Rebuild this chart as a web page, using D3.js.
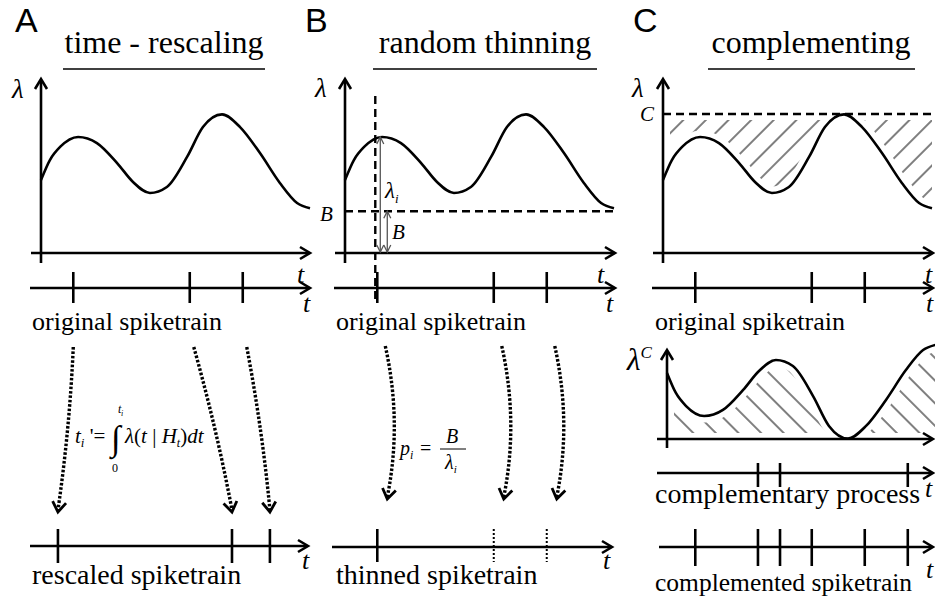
<!DOCTYPE html>
<html><head><meta charset="utf-8">
<script src="https://cdn.jsdelivr.net/npm/d3@7"></script>
<style>body{margin:0;background:#fff} svg{display:block}
.serif{font-family:"Liberation Serif","Tinos","Times New Roman",Times,"Noto Serif","DejaVu Serif",serif}
.sans{font-family:"Liberation Sans",Arial,"DejaVu Sans",sans-serif}
</style>
</head><body>
<svg id="chart" width="935" height="600"></svg>
<script>
// ---------------- data ----------------
const panelLetters = ["A", "B", "C"];
const panelTitles = ["time - rescaling", "random thinning", "complementing"];
const lowerLabelsTop = ["original spiketrain", "original spiketrain", "original spiketrain"];
const bottomLabels = ["rescaled spiketrain", "thinned spiketrain", "complemented spiketrain"];
const complementaryLabel = "complementary process";
// intensity lambda(t) (t in 0..10, lambda in 0..10)
const lambdaT = [0, 0.33, 0.71, 1.38, 2.08, 2.83, 3.42, 4.05, 4.68, 5.43, 6.02, 6.73, 7.40, 8.14, 8.88, 9.52, 10];
const lambdaV = [5.25, 6.69, 7.63, 8.35, 7.91, 6.47, 5.11, 4.32, 4.75, 6.91, 9.06, 9.97, 9.06, 7.19, 5.04, 3.60, 3.22];
const spikeTimes = [1.2, 5.53, 7.5];
const rescaledTimes = [0.63, 7.1, 8.51];
const keptSpikes = [true, false, false];
const complementaryTimes = [3.53, 4.35, 9.1];
const levelB = 3;
const levelC = 10;

// ---------------- setup ----------------
const svg = d3.select("#chart");
const defs = svg.append("defs");

function hatch(id, angle) {
  const p = defs.append("pattern").attr("id", id)
    .attr("patternUnits", "userSpaceOnUse").attr("width", 16).attr("height", 16)
    .attr("patternTransform", `rotate(${angle})`);
  p.append("line").attr("x1", 8).attr("y1", -2).attr("x2", 8).attr("y2", 18)
    .attr("stroke", "#000").attr("stroke-width", 1);
}
hatch("hUp", 45);
hatch("hDown", -45);

const lam = lambdaT.map((t, i) => ({ t, v: lambdaV[i] }));
const origins = [41, 345, 663];
const tips = [310, 615, 933];
const xs = origins.map(o => d3.scaleLinear().domain([0, 10]).range([o, o + 269]));
const xLC = d3.scaleLinear().domain([0, 10]).range([667, 936]);
const yL = d3.scaleLinear().domain([0, 10]).range([253, 114]);
const yLC = d3.scaleLinear().domain([0, 10]).range([439, 300]);
const AX = 2.6;

function hArrow(g, x1, x2, y, w = AX) {
  g.append("line").attr("x1", x1).attr("x2", x2 - 1).attr("y1", y).attr("y2", y)
    .attr("stroke", "#000").attr("stroke-width", w);
  g.append("path").attr("d", `M${x2 - 10},${y - 6}L${x2},${y}L${x2 - 10},${y + 6}`)
    .attr("fill", "none").attr("stroke", "#000").attr("stroke-width", w);
}
function vArrow(g, x, y1, y2, w = AX) {
  g.append("line").attr("x1", x).attr("x2", x).attr("y1", y1).attr("y2", y2 + 1)
    .attr("stroke", "#000").attr("stroke-width", w);
  g.append("path").attr("d", `M${x - 6},${y2 + 10}L${x},${y2}L${x + 6},${y2 + 10}`)
    .attr("fill", "none").attr("stroke", "#000").attr("stroke-width", w);
}
function txt(g, x, y, s, size, opts = {}) {
  return g.append("text").attr("x", x).attr("y", y).text(s)
    .attr("class", opts.sans ? "sans" : "serif").attr("font-size", size)
    .attr("font-style", opts.italic ? "italic" : "normal")
    .attr("text-anchor", opts.anchor || "start").attr("fill", "#000");
}
function ticks(g, scale, times, y1, y2, dotted) {
  g.selectAll(null).data(times).join("line")
    .attr("x1", d => scale(d)).attr("x2", d => scale(d))
    .attr("y1", y1).attr("y2", y2)
    .attr("stroke", "#000").attr("stroke-width", dotted ? 2 : 2.6)
    .attr("stroke-dasharray", dotted ? "2,2" : null);
}
function dottedArrow(g, sx, sy, ex, ey, bulge) {
  const cx = (sx + ex) / 2 + bulge, cy = (sy + ey) / 2;
  g.append("path").attr("d", `M${sx},${sy}Q${cx},${cy} ${ex},${ey - 2}`)
    .attr("fill", "none").attr("stroke", "#000").attr("stroke-width", 3.4).attr("stroke-dasharray", "2.6,1.8");
  const ang = Math.atan2(ey - cy, ex - cx);
  const L = 12, a = 0.6;
  const p1 = [ex - L * Math.cos(ang - a), ey - L * Math.sin(ang - a)];
  const p2 = [ex - L * Math.cos(ang + a), ey - L * Math.sin(ang + a)];
  g.append("path").attr("d", `M${p1}L${ex},${ey}L${p2}`)
    .attr("fill", "none").attr("stroke", "#000").attr("stroke-width", 2.8)
    .attr("stroke-linejoin", "miter");
}
function thinArrow(g, x, y1, y2) {
  g.append("line").attr("x1", x).attr("x2", x).attr("y1", y1).attr("y2", y2)
    .attr("stroke", "#555").attr("stroke-width", 1.3);
  g.append("path").attr("d", `M${x - 3.5},${y1 + 7}L${x},${y1}L${x + 3.5},${y1 + 7}M${x - 3.5},${y2 - 7}L${x},${y2}L${x + 3.5},${y2 - 7}`)
    .attr("fill", "none").attr("stroke", "#555").attr("stroke-width", 1.3);
}

const lineGen = (xsc, ysc, f) => d3.line().x(d => xsc(d.t)).y(d => ysc(f(d))).curve(d3.curveMonotoneX);

// ---------------- titles ----------------
const letterX = [15, 305, 633];
const titleX = [164, 485, 811];
const underline = [[63, 265], [373, 597], [708, 915]];
panelLetters.forEach((L, i) => {
  txt(svg, letterX[i], 32, L, 34, { sans: true });
  txt(svg, titleX[i], 53, panelTitles[i], 32, { anchor: "middle" });
  svg.append("line").attr("x1", underline[i][0]).attr("x2", underline[i][1])
    .attr("y1", 69).attr("y2", 69).attr("stroke", "#000").attr("stroke-width", 1.5);
});

// ---------------- panel C hatching (drawn first) ----------------
const gH = svg.append("g");
gH.append("path").datum(lam)
  .attr("d", d3.area().x(d => xs[2](d.t)).y0(yL(levelC)).y1(d => yL(d.v)).curve(d3.curveMonotoneX))
  .attr("fill", "url(#hUp)");
gH.append("path").datum(lam)
  .attr("d", d3.area().x(d => xLC(d.t)).y0(yLC(0)).y1(d => yLC(levelC - d.v)).curve(d3.curveMonotoneX))
  .attr("fill", "url(#hDown)");
// white margins around the hatched regions
gH.append("path").datum(lam).attr("d", lineGen(xs[2], yL, d => d.v))
  .attr("fill", "none").attr("stroke", "#fff").attr("stroke-width", 13);
gH.append("path").datum(lam).attr("d", lineGen(xLC, yLC, d => levelC - d.v))
  .attr("fill", "none").attr("stroke", "#fff").attr("stroke-width", 13);
gH.append("line").attr("x1", 663).attr("x2", 935).attr("y1", yL(levelC)).attr("y2", yL(levelC))
  .attr("stroke", "#fff").attr("stroke-width", 12);
gH.append("line").attr("x1", 663).attr("x2", 935).attr("y1", yLC(0)).attr("y2", yLC(0))
  .attr("stroke", "#fff").attr("stroke-width", 12);
gH.append("line").attr("x1", 663).attr("x2", 663).attr("y1", 100).attr("y2", 260)
  .attr("stroke", "#fff").attr("stroke-width", 14);
gH.append("line").attr("x1", 667).attr("x2", 667).attr("y1", 340).attr("y2", 445)
  .attr("stroke", "#fff").attr("stroke-width", 14);

// ---------------- upper panels: lambda + original spikes ----------------
const tLabels1 = [[297, 283], [597, 283], [925, 283]];
const tLabels2 = [[303, 312], [606, 312], [926, 312]];
const lamLabel = [[12, 98], [315, 97], [632, 97]];
const origLabelX = [32, 336, 655];
origins.forEach((o, i) => {
  const g = svg.append("g");
  vArrow(g, o, 263, 79);
  hArrow(g, o - 10, tips[i], 253);
  g.append("path").datum(lam).attr("d", lineGen(xs[i], yL, d => d.v))
    .attr("fill", "none").attr("stroke", "#000").attr("stroke-width", 2.6);
  hArrow(g, o - 11, tips[i], 288);
  ticks(g, xs[i], spikeTimes, 272, 303, false);
  txt(g, lamLabel[i][0], lamLabel[i][1], "λ", 27, { italic: true });
  txt(g, tLabels1[i][0], tLabels1[i][1], "t", 26, { italic: true });
  txt(g, tLabels2[i][0], tLabels2[i][1], "t", 26, { italic: true });
  txt(g, origLabelX[i], 330, lowerLabelsTop[i], 26);
});

// ---------------- panel A: rescaling ----------------
{
  const g = svg.append("g");
  spikeTimes.forEach((t, k) => {
    dottedArrow(g, xs[0](t) + (k === 0 ? 0 : 4), 347, xs[0](rescaledTimes[k]), 512, 4);
  });
  hArrow(g, 30, 308, 546);
  ticks(g, xs[0], rescaledTimes, 529, 563, false);
  txt(g, 302, 569, "t", 26, { italic: true });
  txt(g, 32, 584, bottomLabels[0], 28);
  // formula
  const f = g.append("text").attr("x", 75).attr("y", 443).attr("class", "serif").attr("font-size", 21);
  f.append("tspan").attr("font-style", "italic").text("t");
  f.append("tspan").attr("font-style", "italic").attr("font-size", 13).attr("dy", 4).text("i");
  f.append("tspan").attr("dy", -4).text(" '= ");
  txt(g, 111, 450, "∫", 35);
  txt(g, 118, 413, "t", 12, { italic: true });
  txt(g, 121, 416, "i", 8, { italic: true });
  txt(g, 112, 472, "0", 12);
  const f2 = g.append("text").attr("x", 125).attr("y", 443).attr("class", "serif").attr("font-size", 21);
  f2.append("tspan").attr("font-style", "italic").text("λ");
  f2.append("tspan").text("(");
  f2.append("tspan").attr("font-style", "italic").text("t");
  f2.append("tspan").text(" | ");
  f2.append("tspan").attr("font-style", "italic").text("H");
  f2.append("tspan").attr("font-style", "italic").attr("font-size", 12).attr("dy", 4).text("t");
  f2.append("tspan").attr("dy", -4).text(")");
  f2.append("tspan").attr("font-style", "italic").text("dt");
}

// ---------------- panel B: thinning ----------------
{
  const g = svg.append("g");
  const xS = xs[1](spikeTimes[0]) - 2;
  g.append("line").attr("x1", xS).attr("x2", xS).attr("y1", 96).attr("y2", 303)
    .attr("stroke", "#000").attr("stroke-width", 2.4).attr("stroke-dasharray", "8,5");
  g.append("line").attr("x1", 345).attr("x2", 617).attr("y1", yL(levelB)).attr("y2", yL(levelB))
    .attr("stroke", "#000").attr("stroke-width", 2.4).attr("stroke-dasharray", "8,5");
  thinArrow(g, xS + 5, yL(8.35), 252);
  thinArrow(g, xS + 12, yL(levelB), 252);
  txt(g, 320, 221, "B", 21, { italic: true });
  const li = txt(g, 385, 198, "λ", 23, { italic: true });
  li.append("tspan").attr("font-size", 13).attr("dy", 5).text("i");
  txt(g, 392, 239, "B", 21, { italic: true });
  spikeTimes.forEach((t, k) => {
    dottedArrow(g, xs[1](t) + 8, 346, xs[1](t) + 10, 499, 16);
  });
  hArrow(g, 332, 612, 547);
  ticks(g, xs[1], spikeTimes.filter((t, k) => keptSpikes[k]), 529, 562, false);
  ticks(g, xs[1], spikeTimes.filter((t, k) => !keptSpikes[k]), 529, 562, true);
  txt(g, 603, 569, "t", 26, { italic: true });
  txt(g, 336, 584, bottomLabels[1], 28);
  // formula p_i = B / lambda_i
  const p = txt(g, 400, 455, "p", 20, { italic: true });
  p.append("tspan").attr("font-size", 12).attr("dy", 4).text("i");
  txt(g, 420, 455, "=", 20);
  txt(g, 452, 443, "B", 20, { italic: true, anchor: "middle" });
  g.append("line").attr("x1", 440).attr("x2", 466).attr("y1", 449).attr("y2", 449)
    .attr("stroke", "#000").attr("stroke-width", 1);
  const lq = txt(g, 445, 469, "λ", 20, { italic: true });
  lq.append("tspan").attr("font-size", 11).attr("dy", 4).text("i");
}

// ---------------- panel C: complementing ----------------
{
  const g = svg.append("g");
  g.append("line").attr("x1", 663).attr("x2", 935).attr("y1", yL(levelC)).attr("y2", yL(levelC))
    .attr("stroke", "#000").attr("stroke-width", 2.4).attr("stroke-dasharray", "8,5");
  txt(g, 640, 121, "C", 21, { italic: true });
  // lambda^C
  vArrow(g, 667, 448, 350);
  hArrow(g, 657, 933, yLC(0));
  g.append("path").datum(lam).attr("d", lineGen(xLC, yLC, d => levelC - d.v))
    .attr("fill", "none").attr("stroke", "#000").attr("stroke-width", 2.6);
  const lc = txt(g, 627, 370, "λ", 31, { italic: true });
  lc.append("tspan").attr("font-size", 17).attr("dy", -12).text("C");
  // complementary process
  hArrow(g, 657, 933, 473);
  ticks(g, xs[2], complementaryTimes, 463, 487, false);
  txt(g, 925, 497, "t", 26, { italic: true });
  txt(g, 655, 503, complementaryLabel, 28);
  // complemented spiketrain
  const all = spikeTimes.concat(complementaryTimes).sort(d3.ascending);
  hArrow(g, 659, 933, 547);
  ticks(g, xs[2], all, 529, 566, false);
  txt(g, 926, 578, "t", 26, { italic: true });
  txt(g, 655, 591, bottomLabels[2], 25.5);
}
</script>
</body></html>
